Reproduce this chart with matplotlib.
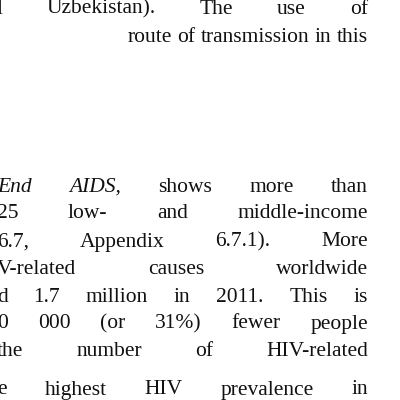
import matplotlib.pyplot as plt

lines = [
    "l Uzbekistan). The use of",
    "route of transmission in this",
    "End AIDS, shows more than",
    "25 low- and middle-income",
    "6.7, Appendix 6.7.1). More",
    "V-related causes worldwide",
    "d 1.7 million in 2011. This is",
    "0 000 (or 31%) fewer people",
    "the number of HIV-related",
    "e highest HIV prevalence in",
]
line_y = [9, 37, 187, 214, 242, 269, 297, 324, 352, 390]
italic_words = {"End", "AIDS,"}
right_aligned = [1]  # natural spacing, flush right

fig = plt.figure(figsize=(4, 4), dpi=100)
fig.patch.set_facecolor('white')
r = fig.canvas.get_renderer()
fs = 15.5
left, right = -3, 368

for i, (ln, y) in enumerate(zip(lines, line_y)):
    words = ln.split(' ')
    arts = []
    for w in words:
        st = 'italic' if w in italic_words else 'normal'
        t = fig.text(0, 1 - y / 400, w, fontsize=fs, family='Liberation Serif',
                     style=st, va='center', ha='left', color='#111111')
        arts.append(t)
    widths = [a.get_window_extent(r).width for a in arts]
    gap = (right - left - sum(widths)) / (len(words) - 1)
    if i in right_aligned:
        gap = min(gap, 5.5)
        x = right - sum(widths) - gap * (len(words) - 1)
    else:
        x = left
    for a, w in zip(arts, widths):
        a.set_x(x / 400)
        x += w + gap

fig.savefig('out.png', dpi=100)
